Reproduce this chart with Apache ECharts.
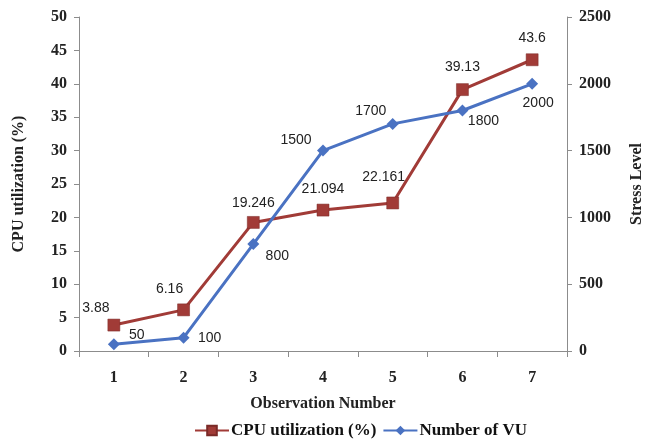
<!DOCTYPE html>
<html>
<head>
<meta charset="utf-8">
<script src="https://cdn.jsdelivr.net/npm/echarts@6/dist/echarts.min.js"></script>
<style>
  html, body { margin: 0; padding: 0; background: #fff; }
  #chart { width: 647px; height: 439px; }
</style>
</head>
<body>
<div id="chart"></div>
<script>
// Observation numbers and measured values
var categories = ['1', '2', '3', '4', '5', '6', '7'];
var cpuUtilization = [3.88, 6.16, 19.246, 21.094, 22.161, 39.13, 43.6];
var virtualUsers = [50, 100, 800, 1500, 1700, 1800, 2000];

// Label offsets (px) relative to each marker, so labels don't collide with lines
var cpuLabelOffsets = [[-18, -17], [-14, -21], [0, -19], [0, -21], [-9, -26], [0, -22], [0, -22]];
var vuLabelOffsets = [[23, -9], [26, 1], [24, 12], [-27, -10], [-22, -13], [21, 11], [6, 19]];

var RED = '#A13B37';
var BLUE = '#4A72C2';
var AXIS = '#8c8c8c';
var serifBold = { fontFamily: 'Liberation Serif', fontWeight: 'bold', color: '#222' };

function withLabels(values, offsets) {
  return values.map(function (v, i) {
    return {
      value: v,
      label: { offset: offsets[i] }
    };
  });
}

var chart = echarts.init(document.getElementById('chart'), null, { renderer: 'canvas' });

chart.setOption({
  animation: false,
  backgroundColor: '#fff',
  grid: { left: 79, right: 80, top: 17, bottom: 88, containLabel: false, outerBoundsMode: 'none' },
  legend: {
    top: 422,
    left: 194,
    itemWidth: 34,
    itemHeight: 12,
    itemGap: 6,
    padding: 0,
    textStyle: Object.assign({ fontSize: 17 }, serifBold, { color: '#111', padding: [0, 0, 0, -3] }),
    data: ['CPU utilization (%)', 'Number of VU']
  },
  xAxis: {
    type: 'category',
    data: categories,
    boundaryGap: true,
    name: 'Observation Number',
    nameLocation: 'middle',
    nameGap: 45,
    nameTextStyle: Object.assign({ fontSize: 16 }, serifBold),
    axisLine: { lineStyle: { color: AXIS, width: 1 } },
    axisTick: { show: true, length: 6, lineStyle: { color: AXIS } },
    axisLabel: Object.assign({ fontSize: 16, margin: 19 }, serifBold),
    splitLine: { show: false }
  },
  yAxis: [
    {
      type: 'value',
      min: 0,
      max: 50,
      interval: 5,
      name: 'CPU utilization (%)',
      nameLocation: 'middle',
      nameGap: 52,
      nameRotate: 90,
      nameTextStyle: Object.assign({ fontSize: 16 }, serifBold),
      axisLine: { show: true, lineStyle: { color: AXIS, width: 1 } },
      axisTick: { show: true, length: 5, lineStyle: { color: AXIS } },
      axisLabel: Object.assign({ fontSize: 16, margin: 12 }, serifBold),
      splitLine: { show: false }
    },
    {
      type: 'value',
      min: 0,
      max: 2500,
      interval: 500,
      position: 'right',
      name: 'Stress Level',
      nameLocation: 'middle',
      nameGap: 62,
      nameRotate: 90,
      nameTextStyle: Object.assign({ fontSize: 16 }, serifBold),
      axisLine: { show: true, lineStyle: { color: AXIS, width: 1 } },
      axisTick: { show: true, length: 5, lineStyle: { color: AXIS } },
      axisLabel: Object.assign({
        fontSize: 16,
        margin: 12,
        formatter: function (v) { return String(v); }
      }, serifBold),
      splitLine: { show: false }
    }
  ],
  series: [
    {
      name: 'CPU utilization (%)',
      type: 'line',
      yAxisIndex: 0,
      data: withLabels(cpuUtilization, cpuLabelOffsets),
      symbol: 'rect',
      symbolSize: 12,
      itemStyle: { color: RED, borderColor: '#7a2a27', borderWidth: 0.5 },
      lineStyle: { color: RED, width: 3 },
      label: {
        show: true,
        position: 'inside',
        fontFamily: 'Liberation Sans',
        fontSize: 14,
        color: '#222'
      },
      z: 2
    },
    {
      name: 'Number of VU',
      type: 'line',
      yAxisIndex: 1,
      data: withLabels(virtualUsers, vuLabelOffsets),
      symbol: 'diamond',
      symbolSize: 12,
      itemStyle: { color: BLUE },
      lineStyle: { color: BLUE, width: 3 },
      label: {
        show: true,
        position: 'inside',
        fontFamily: 'Liberation Sans',
        fontSize: 14,
        color: '#222'
      },
      z: 3
    }
  ]
});
</script>
</body>
</html>
